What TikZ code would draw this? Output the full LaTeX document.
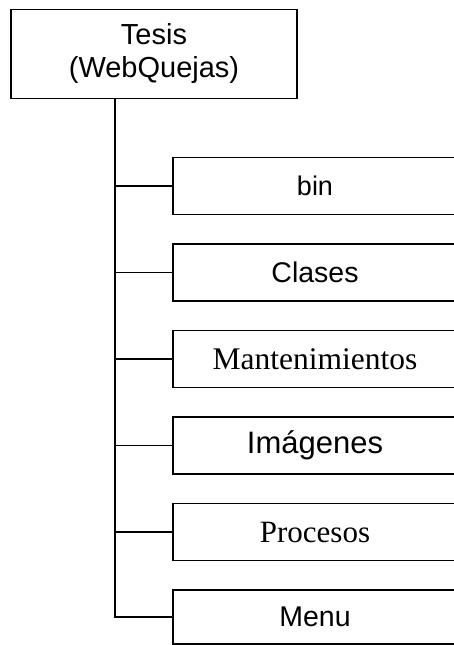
\documentclass[tikz,border=0pt]{standalone}
\usepackage{fontspec}
\setmainfont{Liberation Sans}
\newfontfamily\tms{Liberation Serif}

\begin{document}
\begin{tikzpicture}[x=1pt,y=-1pt,line width=1.3pt]
  \def\f{86.5}
  \def\fy{186}

\tikzstyle{folder}=[draw,rectangle,minimum width=284pt,minimum height=57pt,inner sep=0pt,font=\fontsize{28.5}{33}\selectfont]
\useasboundingbox (0,0) rectangle (454,645);
% raiz
\node[draw,rectangle,minimum width=286pt,minimum height=89pt,inner sep=0pt,align=center,font=\fontsize{29}{33}\selectfont] (R) at (154,54) {Tesis\\(WebQuejas)};
% carpetas
\node[folder][font=\fontsize{27}{33}\selectfont] (P1) at (315,\fy+0*\f) {bin};
\node[folder][] (P2) at (315,\fy+1*\f) {Clases};
\node[folder][font=\fontsize{31.5}{36}\tms] (P3) at (315,\fy+2*\f) {Mantenimientos};
\node[folder][font=\fontsize{31}{36}\selectfont] (P4) at (315,\fy+3*\f) {Imágenes};
\node[folder][font=\fontsize{31}{36}\tms] (P5) at (315,\fy+4*\f) {Procesos};
\node[folder][minimum height=54pt] (P6) at (315,\fy+5*\f-1.5) {Menu};
\coordinate (T) at (115,0);
\draw (R.south -| T) |- (P6.west);
\draw (P1.west) -- (P1.west -| T);
\draw (P2.west) -- (P2.west -| T);
\draw (P3.west) -- (P3.west -| T);
\draw (P4.west) -- (P4.west -| T);
\draw (P5.west) -- (P5.west -| T);
\end{tikzpicture}
\end{document}
